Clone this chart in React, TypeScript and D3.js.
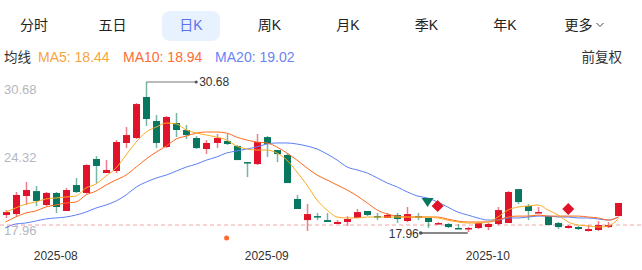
import * as d3 from "d3";

const dates = [
  "2025-07-25", "2025-07-28", "2025-07-29", "2025-07-30", "2025-07-31",
  "2025-08-01", "2025-08-04", "2025-08-05", "2025-08-06", "2025-08-07", "2025-08-08",
  "2025-08-11", "2025-08-12", "2025-08-13", "2025-08-14", "2025-08-15",
  "2025-08-18", "2025-08-19", "2025-08-20", "2025-08-21", "2025-08-22",
  "2025-08-25", "2025-08-26", "2025-08-27", "2025-08-28", "2025-08-29",
  "2025-09-01", "2025-09-02", "2025-09-03", "2025-09-04", "2025-09-05",
  "2025-09-08", "2025-09-09", "2025-09-10", "2025-09-11", "2025-09-12",
  "2025-09-15", "2025-09-16", "2025-09-17", "2025-09-18", "2025-09-19",
  "2025-09-22", "2025-09-23", "2025-09-24", "2025-09-25", "2025-09-26",
  "2025-09-29", "2025-09-30",
  "2025-10-09", "2025-10-10", "2025-10-13", "2025-10-14", "2025-10-15",
  "2025-10-16", "2025-10-17", "2025-10-20", "2025-10-21", "2025-10-22",
  "2025-10-23", "2025-10-24", "2025-10-27", "2025-10-28",
];

const open = [
  19.4, 19.48, 21.01, 21.43, 20.25, 21.27, 19.74, 21.94, 21.27, 24.15,
  22.96, 23.13, 25.51, 25.93, 29.41, 27.37, 25.17, 27.2, 26.61, 25.93,
  25.0, 25.51, 25.68, 25.25, 23.89, 23.72, 26.01, 24.91, 24.49, 20.76,
  18.97, 19.31, 18.97, 18.64, 18.81, 19.15, 19.74, 19.31, 19.15, 19.4,
  18.89, 19.31, 19.15, 18.64, 18.64, 18.3, 18.21, 18.3, 18.38, 18.64,
  18.72, 21.6, 20.16, 19.57, 19.31, 18.72, 18.3, 18.38, 18.04, 18.13,
  18.38, 19.31,
];
const close = [
  19.65, 21.1, 21.52, 20.59, 21.27, 20.08, 21.52, 21.35, 23.64, 23.56,
  23.22, 25.59, 26.18, 28.81, 27.54, 25.51, 27.71, 26.61, 26.18, 25.08,
  25.51, 25.93, 25.42, 24.06, 23.81, 25.59, 25.42, 24.57, 22.11, 19.91,
  19.48, 19.23, 18.81, 18.81, 19.06, 19.65, 19.4, 19.23, 19.4, 19.06,
  19.48, 19.23, 18.81, 18.72, 18.38, 18.21, 18.3, 18.72, 18.64, 19.82,
  21.35, 20.5, 19.74, 19.65, 18.55, 18.38, 18.47, 18.21, 18.21, 18.55,
  18.55, 20.42,
];
const high = [
  19.82, 21.35, 22.2, 21.86, 21.35, 21.35, 21.7, 22.54, 23.7, 24.4,
  24.06, 25.76, 26.86, 28.9, 30.68, 27.88, 27.8, 28.05, 27.03, 26.1,
  25.76, 26.27, 26.27, 25.34, 23.89, 26.27, 26.1, 24.91, 24.66, 21.1,
  20.33, 19.57, 19.57, 18.97, 19.31, 19.91, 19.74, 19.57, 19.57, 19.57,
  20.08, 19.57, 19.15, 18.8, 18.72, 18.64, 18.38, 18.81, 18.72, 20.08,
  21.43, 21.6, 20.33, 20.08, 19.31, 18.81, 18.55, 18.47, 18.55, 18.89,
  18.81, 20.42,
];
const low = [
  19.15, 19.23, 20.25, 20.16, 20.16, 19.57, 19.74, 21.27, 21.2, 22.11,
  22.96, 22.96, 25.08, 25.85, 26.95, 25.08, 25.08, 26.01, 25.85, 25.0,
  24.57, 25.08, 25.34, 24.06, 22.62, 23.64, 24.32, 23.89, 22.11, 19.91,
  18.05, 18.97, 18.81, 18.64, 18.47, 19.15, 19.31, 18.97, 19.15, 18.72,
  18.81, 18.97, 18.3, 18.6, 18.3, 18.21, 17.96, 18.21, 18.13, 18.55,
  18.72, 20.33, 18.97, 19.57, 18.55, 18.21, 18.25, 18.13, 18.0, 18.04,
  18.3, 19.31,
];

const ma5 = [
  19.65, 19.99, 20.33, 20.5, 20.76, 20.84, 20.93, 21.01, 21.69, 22.03,
  22.71, 23.39, 24.49, 25.59, 26.44, 26.86, 27.2, 27.12, 26.61, 26.35,
  26.18, 26.01, 25.76, 25.25, 25.0, 24.91, 24.91, 24.66, 24.06, 23.05,
  21.94, 20.67, 19.82, 19.23, 19.15, 19.15, 19.23, 19.23, 19.23, 19.23,
  19.23, 19.23, 19.23, 19.15, 18.97, 18.81, 18.72, 18.72, 18.81, 19.23,
  19.82, 20.08, 20.16, 20.25, 19.82, 19.4, 18.81, 18.55, 18.47, 18.38,
  18.47, 19.1,
];
const ma10 = [
  18.81, 19.23, 19.57, 19.74, 20.08, 20.25, 20.42, 20.5, 21.1, 21.43,
  21.94, 22.37, 22.79, 23.47, 24.15, 24.74, 25.25, 25.85, 26.1, 26.35,
  26.44, 26.44, 26.35, 26.01, 25.76, 25.59, 25.51, 25.17, 24.66, 24.06,
  23.39, 22.79, 22.37, 21.94, 21.52, 21.01, 20.42, 19.82, 19.48, 19.31,
  19.23, 19.23, 19.23, 19.23, 19.06, 18.89, 18.81, 18.81, 18.81, 18.97,
  19.23, 19.31, 19.31, 19.4, 19.31, 19.31, 19.31, 19.31, 19.23, 19.15,
  18.97, 19.23,
];
const ma20 = [
  18.3, 18.64, 18.72, 18.89, 19.06, 19.15, 19.23, 19.4, 19.65, 19.99,
  20.25, 20.59, 21.1, 21.77, 22.2, 22.54, 22.79, 23.13, 23.47, 23.72,
  24.06, 24.32, 24.66, 24.83, 25.0, 25.17, 25.42, 25.51, 25.51, 25.42,
  25.25, 25.0, 24.57, 24.06, 23.47, 23.22, 22.96, 22.54, 22.11, 21.77,
  21.35, 21.01, 20.84, 20.5, 20.08, 19.65, 19.4, 19.15, 18.97, 18.97,
  19.15, 19.15, 19.23, 19.31, 19.31, 19.23, 19.23, 19.15, 19.15, 19.06,
  18.97, 19.23,
];

const tabs = ["分时", "五日", "日K", "周K", "月K", "季K", "年K", "更多"];
const activeTab = "日K";
const legendItems = [
  { label: "MA5: 18.44", color: "#f8a43c" },
  { label: "MA10: 18.94", color: "#fd6d34" },
  { label: "MA20: 19.02", color: "#6a84f5" },
];
const yTicks = [30.68, 24.32, 17.96];
const monthTicks = [
  { date: "2025-08-01", label: "2025-08" },
  { date: "2025-09-01", label: "2025-09" },
  { date: "2025-10-09", label: "2025-10" },
];
const refPrice = 18.55;
const maxIdx = 14;
const minIdx = 46;
// B/S signal markers (date, price level, kind)
const signals = [
  { date: "2025-09-23", price: 20.5, kind: "down" },
  { date: "2025-09-24", price: 20.16, kind: "diamond" },
  { date: "2025-10-21", price: 19.91, kind: "diamond" },
];
const eventDates = ["2025-08-26"];

const UP = "#e0132b";
const DOWN = "#07785f";
const FONT = "'Liberation Sans', 'Noto Sans CJK SC', Arial, sans-serif";

const W = 642;
const H = 270;

export default function App() {
  const x = d3.scaleBand<string>().domain(dates).range([2, 622]).paddingInner(0.3);
  const y = d3.scaleLinear().domain([17.96, 30.68]).range([232, 82]);
  const cx = (d: string) => (x(d) ?? 0) + x.bandwidth() / 2;

  const line = (vals: number[]) =>
    d3
      .line<number>()
      .x((_, i) => cx(dates[i]))
      .y((v) => y(v))
      .curve(d3.curveMonotoneX)(vals) ?? undefined;

  const tabStep = 78.5;

  let lx = 38;
  const legendPos = legendItems.map((l) => {
    const p = lx;
    lx += l.label.length * 7.1 + 14;
    return p;
  });

  return (
    <svg
      width={W}
      height={H}
      style={{ position: "fixed", left: 0, top: 0, background: "#fff" }}
      fontFamily={FONT}
    >
      {/* tabs */}
      {tabs.map((t, i) => {
        const tx = 34 + i * tabStep;
        const active = t === activeTab;
        return (
          <g key={t}>
            {active && (
              <rect x={tx - 29} y={11} width={58} height={30} rx={8} fill="#e8f1fe" />
            )}
            <text
              x={t === "更多" ? tx - 5 : tx}
              y={30}
              fontSize={14}
              textAnchor="middle"
              fill={active ? "#5b72ee" : "#222"}
            >
              {t}
            </text>
            {t === "更多" && (
              <path
                d={`M${tx + 13},${23} l3.5,3.5 l3.5,-3.5`}
                fill="none"
                stroke="#444"
                strokeWidth={1}
              />
            )}
          </g>
        );
      })}

      {/* legend */}
      <text x={4} y={62} fontSize={13.5} fill="#333">均线</text>
      {legendItems.map((l, i) => (
        <text key={l.label} x={legendPos[i]} y={62} fontSize={14} fill={l.color}>
          {l.label}
        </text>
      ))}
      <text x={622} y={62} fontSize={13.5} fill="#333" textAnchor="end">前复权</text>

      {/* y labels */}
      {yTicks.map((v, i) => (
        <text
          key={v}
          x={4}
          y={y(v) + (i === 0 ? 12 : i === yTicks.length - 1 ? 3 : 5)}
          fontSize={13}
          fill="#b4b7bf"
        >
          {v.toFixed(2)}
        </text>
      ))}

      {/* reference dashed line */}
      <line
        x1={0}
        x2={W}
        y1={y(refPrice)}
        y2={y(refPrice)}
        stroke="#f3a3a3"
        strokeDasharray="4,3"
        strokeWidth={1}
      />

      {/* candles */}
      {dates.map((d, i) => {
        const isUp = close[i] >= open[i];
        const c = isUp ? UP : DOWN;
        const top = y(Math.max(open[i], close[i]));
        const bot = y(Math.min(open[i], close[i]));
        const xc = Math.round(cx(d)) + 0.5;
        return (
          <g key={d}>
            <line
              x1={xc}
              x2={xc}
              y1={y(high[i])}
              y2={y(low[i])}
              stroke={c}
              strokeOpacity={0.55}
              strokeWidth={1.5}
            />
            <rect
              x={xc - 3.5}
              y={top}
              width={7}
              height={Math.max(bot - top, 1.5)}
              fill={c}
            />
          </g>
        );
      })}

      {/* moving averages */}
      <path d={line(ma20)} fill="none" stroke="#5b7ff6" strokeWidth={1} />
      <path d={line(ma10)} fill="none" stroke="#ff6a1c" strokeWidth={1} />
      <path d={line(ma5)} fill="none" stroke="#fbab22" strokeWidth={1} />

      {/* signals */}
      {signals.map((s) => {
        const sx = cx(s.date);
        const sy = y(s.price);
        if (s.kind === "down")
          return (
            <path
              key={s.date}
              d={`M${sx - 6},${sy - 4} L${sx + 6},${sy - 4} L${sx},${sy + 5} Z`}
              fill={DOWN}
            />
          );
        return (
          <path
            key={s.date}
            d={`M${sx},${sy - 6} L${sx + 6},${sy} L${sx},${sy + 6} L${sx - 6},${sy} Z`}
            fill={UP}
          />
        );
      })}

      {eventDates.map((d) => (
        <circle key={d} cx={cx(d)} cy={y(17.96) + 6} r={2.5} fill="#ff6a33" />
      ))}

      {/* max marker */}
      <line
        x1={cx(dates[maxIdx])}
        x2={cx(dates[maxIdx]) + 50}
        y1={y(high[maxIdx])}
        y2={y(high[maxIdx])}
        stroke="#777"
        strokeWidth={1.2}
      />
      <circle cx={cx(dates[maxIdx]) + 50} cy={y(high[maxIdx])} r={1.6} fill="#555" />
      <text x={cx(dates[maxIdx]) + 53} y={y(high[maxIdx]) + 4} fontSize={12} fill="#333">
        {high[maxIdx].toFixed(2)}
      </text>

      {/* min marker */}
      <line
        x1={cx(dates[minIdx])}
        x2={cx(dates[minIdx]) - 47}
        y1={y(low[minIdx]) + 1}
        y2={y(low[minIdx]) + 1}
        stroke="#888"
        strokeWidth={2}
      />
      <circle cx={cx(dates[minIdx]) - 47} cy={y(low[minIdx]) + 1} r={1.8} fill="#555" />
      <text
        x={cx(dates[minIdx]) - 49}
        y={y(low[minIdx]) + 6}
        fontSize={12}
        fill="#333"
        textAnchor="end"
      >
        {low[minIdx].toFixed(2)}
      </text>

      {/* x labels */}
      {monthTicks.map((t) => (
        <text key={t.label} x={cx(t.date)} y={260} fontSize={12} fill="#333" textAnchor="middle">
          {t.label}
        </text>
      ))}
    </svg>
  );
}
